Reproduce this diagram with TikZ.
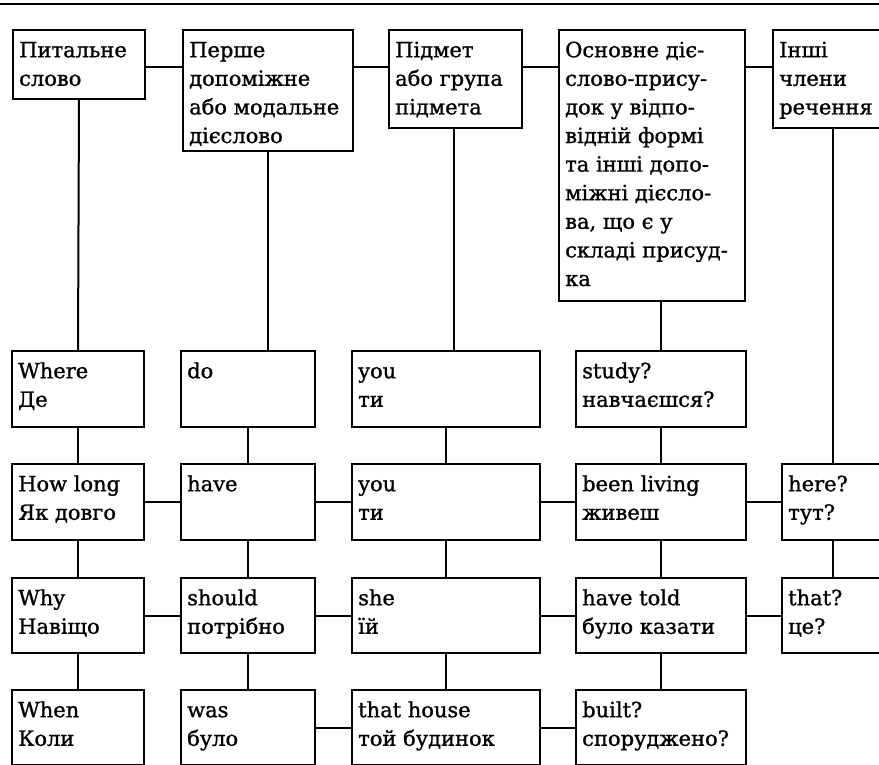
\documentclass[tikz,border=0pt]{standalone}
\usepackage{fontspec}
\setmainfont[FakeBold=1.1]{DejaVu Serif}
\begin{document}
\begin{tikzpicture}[x=1pt,y=-1pt,
  cell/.style={draw, line width=2pt, rectangle, inner sep=0pt, anchor=north west},
  celltext/.style={anchor=north west, inner sep=0pt, align=left,
    font=\fontsize{21}{28.6}\selectfont},
  link/.style={line width=2pt}]
\path[use as bounding box, clip] (0,0) rectangle (879,765);
\fill[white] (0,0) rectangle (879,765);
% top rule
\draw[line width=2.8pt] (0,4) -- (879,4);

% helper: box with its text in the upper-left corner
\newcommand{\cellbox}[6]{%
  \node[cell, minimum width=#4, minimum height=#5] (#1) at (#2,#3) {};
  \node[celltext] (#1-t) at ([xshift=7pt,yshift=-8pt]#1.north west) {\strut #6};
}

% header row
\cellbox{hq}{12}{29}{132}{69}{Питальне\\слово}
\cellbox{ha}{182}{29}{170}{121}{Перше\\допоміжне\\або модальне\\дієслово}
\cellbox{hs}{388}{29}{133}{98}{Підмет\\або група\\підмета}
\cellbox{hv}{558}{29}{186}{271}{Основне діє-\\слово-прису-\\док у відпо-\\відній формі\\та інші допо-\\міжні дієсло-\\ва, що є у\\складі присуд-\\ка}
\cellbox{ho}{772}{29}{140}{98}{Інші\\члени\\речення}

% row 1
\cellbox{q1}{11}{350}{132}{76}{Where\\Де}
\cellbox{a1}{180}{350}{134}{76}{do}
\cellbox{s1}{351}{350}{188}{76}{you\\ти}
\cellbox{v1}{575}{350}{170}{76}{study?\\навчаєшся?}

% row 2
\cellbox{q2}{11}{463}{132}{76}{How long\\Як довго}
\cellbox{a2}{180}{463}{134}{76}{have}
\cellbox{s2}{351}{463}{188}{76}{you\\ти}
\cellbox{v2}{575}{463}{170}{76}{been living\\живеш}
\cellbox{o2}{781}{463}{130}{76}{here?\\тут?}

% row 3
\cellbox{q3}{11}{577}{132}{75}{Why\\Навіщо}
\cellbox{a3}{180}{577}{134}{75}{should\\потрібно}
\cellbox{s3}{351}{577}{188}{75}{she\\їй}
\cellbox{v3}{575}{577}{170}{75}{have told\\було казати}
\cellbox{o3}{781}{577}{130}{75}{that?\\це?}

% row 4
\cellbox{q4}{11}{689}{132}{75}{When\\Коли}
\cellbox{a4}{180}{689}{134}{75}{was\\було}
\cellbox{s4}{351}{689}{188}{75}{that house\\той будинок}
\cellbox{v4}{575}{689}{170}{75}{built?\\споруджено?}

% header links
\draw[link] (hq.east |- 0,67) -- (ha.west |- 0,67);
\draw[link] (ha.east |- 0,67) -- (hs.west |- 0,67);
\draw[link] (hs.east |- 0,67) -- (hv.west |- 0,67);
\draw[link] (hv.east |- 0,67) -- (ho.west |- 0,67);

% header to columns
\draw[link] (hq.south) -- (q1.north);
\draw[link] (ha.south) -- (ha.south |- a1.north);
\draw[link] (hs.south -| 454,0) -- (454,350);
\draw[link] (hv.south -| v1.north) -- (v1.north);
\draw[link] (ho.south -| 833,0) -- (833,463);

% vertical links in columns
\foreach \c in {q,a,s,v}{
  \draw[link] (\c1.south) -- (\c2.north);
  \draw[link] (\c2.south) -- (\c3.north);
  \draw[link] (\c3.south) -- (\c4.north);
}
\draw[link] (833,539) -- (833,577);

% horizontal links in rows
\draw[link] (q2.east) -- (q2.east -| a2.west);
\draw[link] (a2.east) -- (a2.east -| s2.west);
\draw[link] (s2.east) -- (s2.east -| v2.west);
\draw[link] (v2.east) -- (o2.west);
\draw[link] (q3.east) -- (q3.east -| a3.west);
\draw[link] (a3.east) -- (a3.east -| s3.west);
\draw[link] (s3.east) -- (s3.east -| v3.west);
\draw[link] (v3.east) -- (o3.west);
\draw[link] (a4.east) -- (a4.east -| s4.west);
\draw[link] (s4.east) -- (s4.east -| v4.west);
\end{tikzpicture}
\end{document}
